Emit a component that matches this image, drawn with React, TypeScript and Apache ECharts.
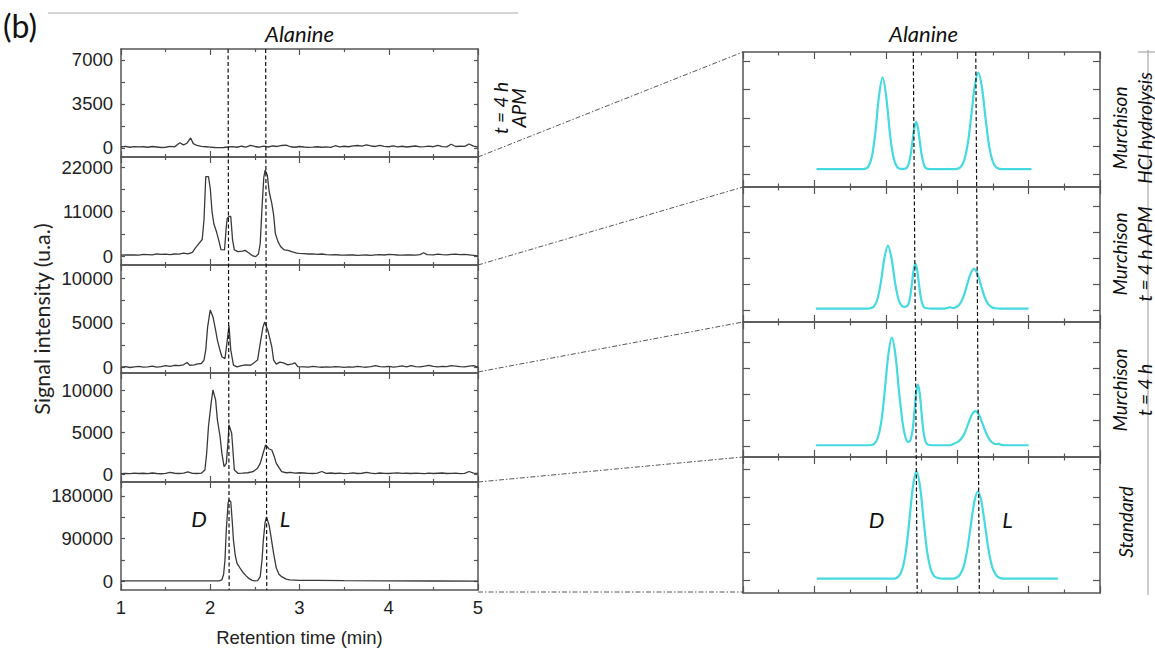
import React, { useEffect, useRef } from "react";
import * as echarts from "echarts";

// ---------------- DATA ----------------
// Left chromatograms: [retention time (min), signal intensity (u.a.)]
const leftApm4h = [
  [1.0, 80], [1.05, 130], [1.1, 60], [1.15, 110], [1.2, 90], [1.25, 100], [1.3, 60], [1.35, 120], [1.4, 80], [1.45, 40],
  [1.5, 60], [1.55, 130], [1.6, 90], [1.63, 260], [1.66, 420], [1.7, 250], [1.74, 380], [1.78, 800], [1.81, 350], [1.85, 200],
  [1.9, 130], [1.95, 100], [2.0, 70], [2.05, 40], [2.1, 30], [2.15, 40], [2.2, 80], [2.25, 110], [2.3, 60], [2.35, 140],
  [2.4, 70], [2.45, 200], [2.5, 120], [2.55, 60], [2.6, 150], [2.65, 80], [2.7, 160], [2.75, 120], [2.8, 200], [2.85, 230],
  [2.9, 100], [2.95, 60], [3.0, 120], [3.05, 80], [3.1, 50], [3.15, 70], [3.2, 100], [3.25, 60], [3.3, 90], [3.35, 50],
  [3.4, 180], [3.45, 90], [3.5, 140], [3.55, 100], [3.6, 170], [3.65, 200], [3.7, 150], [3.75, 240], [3.8, 160], [3.85, 120],
  [3.9, 200], [3.95, 130], [4.0, 100], [4.05, 170], [4.1, 90], [4.15, 140], [4.2, 80], [4.25, 120], [4.3, 160], [4.35, 90],
  [4.4, 110], [4.45, 150], [4.5, 100], [4.55, 200], [4.6, 110], [4.65, 90], [4.7, 300], [4.75, 120], [4.8, 140], [4.85, 130],
  [4.9, 320], [4.95, 150], [5.0, 60],
];
const leftHcl = [
  [1.0, 200], [1.05, 250], [1.1, 300], [1.15, 250], [1.2, 200], [1.25, 400], [1.3, 350], [1.35, 300], [1.4, 500], [1.45, 400],
  [1.5, 450], [1.55, 350], [1.6, 500], [1.65, 450], [1.7, 700], [1.75, 550], [1.8, 900], [1.83, 1900], [1.87, 3000], [1.91, 4100],
  [1.93, 9000], [1.95, 19700], [1.98, 19700], [2.0, 16800], [2.02, 11000], [2.04, 8000], [2.07, 6000], [2.1, 3500], [2.12, 1600],
  [2.16, 1500], [2.18, 7300], [2.19, 9300], [2.21, 9800], [2.23, 9800], [2.25, 4000], [2.27, 1500], [2.31, 1100], [2.36, 1200],
  [2.39, 1400], [2.43, 800], [2.47, 100], [2.51, -150], [2.54, 500], [2.56, 3100], [2.58, 12000], [2.6, 19500], [2.615, 21300],
  [2.64, 20000], [2.66, 16000], [2.69, 13000], [2.71, 10200], [2.73, 5500], [2.76, 3500], [2.79, 2300], [2.83, 1500], [2.87, 1400],
  [2.92, 1000], [2.97, 700], [3.0, 650], [3.05, 600], [3.1, 500], [3.15, 550], [3.2, 400], [3.25, 500], [3.3, 350], [3.35, 300],
  [3.4, 350], [3.45, 250], [3.5, 200], [3.55, 300], [3.6, 250], [3.65, 150], [3.7, 200], [3.75, 250], [3.8, 150], [3.85, 300],
  [3.9, 350], [3.95, 250], [4.0, 400], [4.05, 350], [4.1, 250], [4.15, 200], [4.2, 300], [4.25, 250], [4.3, 200], [4.35, 350],
  [4.39, 800], [4.43, 350], [4.5, 300], [4.55, 450], [4.6, 350], [4.65, 300], [4.7, 400], [4.75, 450], [4.8, 350], [4.85, 400],
  [4.9, 300], [4.95, 150], [5.0, 0],
];
const leftMurApm = [
  [1.0, 50], [1.05, 100], [1.1, 0], [1.15, 80], [1.2, 120], [1.25, 50], [1.3, 60], [1.35, 150], [1.4, 30], [1.45, 100],
  [1.5, 200], [1.55, 120], [1.6, 250], [1.65, 200], [1.7, 300], [1.74, 560], [1.77, 250], [1.82, 300], [1.86, 400], [1.9, 450],
  [1.93, 830], [1.95, 2000], [1.97, 4500], [2.0, 6450], [2.03, 5700], [2.06, 4200], [2.08, 3075], [2.11, 1900], [2.13, 1200],
  [2.165, 1000], [2.19, 3000], [2.21, 4700], [2.23, 1950], [2.26, 260], [2.3, 75], [2.35, 200], [2.4, 300], [2.45, 250],
  [2.48, 450], [2.53, 830], [2.56, 2700], [2.59, 4500], [2.61, 5100], [2.65, 4000], [2.69, 2300], [2.71, 830], [2.74, 375],
  [2.78, 600], [2.82, 525], [2.87, 300], [2.92, 400], [2.95, 525], [2.98, 100], [3.05, 80], [3.1, 50], [3.15, 120], [3.2, 60],
  [3.25, 30], [3.3, 80], [3.35, 50], [3.4, 100], [3.45, 60], [3.5, 20], [3.55, 80], [3.6, 40], [3.65, 120], [3.7, 60],
  [3.75, 30], [3.8, 100], [3.85, 200], [3.9, 90], [3.95, 60], [4.0, 120], [4.05, 40], [4.1, 100], [4.15, 180], [4.2, 60],
  [4.25, 200], [4.3, 100], [4.35, 60], [4.4, 150], [4.45, 250], [4.5, 120], [4.55, 80], [4.6, 130], [4.65, 90], [4.7, 200],
  [4.75, 160], [4.8, 100], [4.85, 60], [4.9, 150], [4.95, 200], [5.0, 40],
];
const leftMur4h = [
  [1.0, 50], [1.05, 80], [1.1, 40], [1.15, 100], [1.2, 60], [1.25, 90], [1.3, 50], [1.35, 120], [1.4, 60], [1.45, 30],
  [1.5, 80], [1.55, 200], [1.6, 90], [1.65, 60], [1.7, 100], [1.75, 250], [1.8, 80], [1.85, 60], [1.9, 100], [1.94, 480],
  [1.96, 2500], [1.98, 5700], [2.01, 8500], [2.03, 10080], [2.06, 8900], [2.08, 6500], [2.11, 4500], [2.13, 2500], [2.155, 880],
  [2.18, 1280], [2.2, 4000], [2.21, 5900], [2.24, 4900], [2.27, 480], [2.31, 80], [2.36, 100], [2.42, 150], [2.48, 280],
  [2.53, 700], [2.56, 1280], [2.59, 2400], [2.62, 3480], [2.66, 3000], [2.69, 2880], [2.72, 2000], [2.74, 1280], [2.8, 280],
  [2.85, 150], [2.9, 200], [2.95, 100], [3.0, 150], [3.05, 120], [3.1, 80], [3.15, 60], [3.2, 100], [3.25, 300], [3.3, 80],
  [3.35, 120], [3.4, 60], [3.45, 100], [3.5, 40], [3.55, 80], [3.6, 130], [3.65, 60], [3.7, 90], [3.75, 200], [3.8, 100],
  [3.85, 50], [3.9, 120], [3.95, 80], [4.0, 60], [4.05, 100], [4.1, 140], [4.15, 70], [4.2, 90], [4.25, 60], [4.3, 110],
  [4.35, 80], [4.4, 50], [4.45, 100], [4.5, 60], [4.55, 90], [4.6, 120], [4.65, 60], [4.7, 80], [4.75, 100], [4.8, 50],
  [4.85, 80], [4.9, 300], [4.95, 100], [5.0, 80],
];
const leftStandard = [
  [1.0, 1000], [1.2, 1000], [1.4, 900], [1.6, 1000], [1.8, 900], [2.0, 900], [2.1, 1000], [2.13, 2800], [2.15, 15000],
  [2.165, 45000], [2.18, 110000], [2.2, 165000], [2.21, 171500], [2.23, 168000], [2.245, 130000], [2.26, 87000], [2.28, 55000],
  [2.3, 38000], [2.34, 26000], [2.37, 18000], [2.4, 12000], [2.43, 6300], [2.47, 2000], [2.5, 700], [2.53, 1500], [2.56, 9800],
  [2.58, 45000], [2.595, 87000], [2.615, 125000], [2.63, 136000], [2.66, 118000], [2.68, 95000], [2.71, 59000], [2.74, 28000],
  [2.77, 15000], [2.8, 9800], [2.85, 4500], [2.89, 2800], [3.0, 2100], [3.2, 1800], [3.5, 1300], [4.0, 800], [4.5, 600], [5.0, 500],
];

// Right (zoomed, smoothed) traces: [zoom-axis position, relative intensity]
const rightHcl = [
  [2.06, 0.19], [3.3, 0.19], [3.41, 0.2], [3.51, 0.28], [3.61, 0.63], [3.71, 1.52], [3.81, 2.78], [3.91, 3.43], [4.01, 2.78],
  [4.11, 1.52], [4.21, 0.63], [4.31, 0.28], [4.41, 0.2], [4.55, 0.21], [4.6, 0.26], [4.65, 0.42], [4.7, 0.73], [4.75, 1.2],
  [4.8, 1.66], [4.85, 1.86], [4.9, 1.66], [4.95, 1.2], [5.0, 0.73], [5.05, 0.42], [5.1, 0.26], [5.15, 0.21], [5.3, 0.19],
  [5.85, 0.19], [5.99, 0.2], [6.09, 0.26], [6.19, 0.48], [6.29, 1.04], [6.39, 2.03], [6.49, 3.11], [6.59, 3.6], [6.69, 3.11],
  [6.79, 2.03], [6.89, 1.04], [6.99, 0.48], [7.09, 0.26], [7.19, 0.2], [7.35, 0.19], [8.08, 0.19],
];
const rightApm = [
  [2.04, 0.07], [3.5, 0.07], [3.56, 0.08], [3.66, 0.14], [3.76, 0.4], [3.86, 1.07], [3.96, 2.01], [4.06, 2.5], [4.16, 2.01],
  [4.26, 1.07], [4.36, 0.4], [4.46, 0.16], [4.53, 0.13], [4.58, 0.15], [4.63, 0.22], [4.68, 0.5], [4.73, 1.0], [4.78, 1.55],
  [4.83, 1.8], [4.88, 1.55], [4.93, 1.0], [4.98, 0.5], [5.03, 0.22], [5.08, 0.11], [5.15, 0.08], [5.3, 0.07], [5.65, 0.07],
  [5.72, 0.09], [5.79, 0.12], [5.86, 0.09], [5.97, 0.12], [6.07, 0.24], [6.17, 0.51], [6.27, 0.95], [6.37, 1.4], [6.47, 1.6],
  [6.57, 1.4], [6.67, 0.95], [6.77, 0.51], [6.87, 0.24], [6.97, 0.12], [7.07, 0.08], [7.2, 0.07], [8.0, 0.07],
];
const right4h = [
  [2.04, 0.04], [3.5, 0.04], [3.6, 0.05], [3.67, 0.09], [3.77, 0.3], [3.87, 0.91], [3.97, 2.11], [4.07, 3.51], [4.17, 4.17],
  [4.27, 3.51], [4.37, 2.11], [4.47, 0.91], [4.55, 0.35], [4.62, 0.17], [4.67, 0.2], [4.7, 0.28], [4.75, 0.62], [4.8, 1.3],
  [4.85, 2.04], [4.9, 2.37], [4.95, 2.04], [5.0, 1.3], [5.05, 0.62], [5.1, 0.24], [5.15, 0.09], [5.25, 0.05], [5.4, 0.04],
  [5.8, 0.04], [5.91, 0.1], [6.01, 0.16], [6.11, 0.29], [6.21, 0.51], [6.31, 0.87], [6.41, 1.21], [6.51, 1.35], [6.61, 1.21],
  [6.71, 0.87], [6.81, 0.51], [6.91, 0.25], [7.01, 0.12], [7.1, 0.08], [7.16, 0.1], [7.22, 0.06], [7.35, 0.04], [8.0, 0.04],
];
const rightStandard = [
  [2.07, 0.06], [4.25, 0.06], [4.36, 0.14], [4.46, 0.39], [4.56, 1.02], [4.66, 2.14], [4.76, 3.36], [4.86, 3.91], [4.96, 3.36],
  [5.06, 2.14], [5.16, 1.02], [5.26, 0.39], [5.36, 0.14], [5.46, 0.08], [5.6, 0.06], [5.9, 0.06], [5.98, 0.09], [6.08, 0.2],
  [6.18, 0.48], [6.28, 1.08], [6.38, 1.96], [6.48, 2.82], [6.58, 3.19], [6.68, 2.82], [6.78, 1.96], [6.88, 1.08], [6.98, 0.48],
  [7.08, 0.2], [7.18, 0.09], [7.3, 0.06], [8.82, 0.06],
];

const leftData = [leftApm4h, leftHcl, leftMurApm, leftMur4h, leftStandard];
const rightData = [rightHcl, rightApm, right4h, rightStandard];

// Axis ranges and tick labels
const xTickLabels = [1, 2, 3, 4, 5];
const leftYMin = [-716, -2232, -617, -960, -18360];
const leftYMax = [7875, 24555, 11491, 12125, 209540];
const leftYLabels = [[0, 3500, 7000], [0, 11000, 22000], [0, 5000, 10000], [0, 5000, 10000], [0, 90000, 180000]];
const leftYTicks = [
  [0, 1750, 3500, 5250, 7000],
  [0, 5500, 11000, 16500, 22000],
  [0, 2500, 5000, 7500, 10000],
  [0, 2500, 5000, 7500, 10000],
  [0, 45000, 90000, 135000, 180000],
];
const rightYMin = [-0.44, -0.45, -0.41, -0.46];
const rightYMax = [4.33, 4.76, 4.77, 4.43];
const rightYTicks = [0, 1, 2, 3, 4];

// D / L retention markers (top value, bottom value) on each x scale
const leftMarkers = [[2.2, 2.212], [2.621, 2.633]];
const rightMarkers = [[4.77, 4.88], [6.52, 6.62]];

const rightLabels = ["Murchison\nHCl hydrolysis", "Murchison\nt = 4 h APM", "Murchison\nt = 4 h", "Standard"];
const xTitle = "Retention time (min)";
const yTitle = "Signal intensity (u.a.)";

// ---------------- LAYOUT ----------------
const LX = 121, LW = 357;
const LTOPS = [49, 157, 265, 373, 482];
const LH = [108, 108, 108, 109, 108];
const RX = 743, RW = 357;
const RTOPS = [52, 187, 322, 457];
const RH = [135, 135, 135, 136];
const AX = "#555";
const CYAN = "#45d9e0";
const CAL = "Lato";
const ARIAL = "Liberation Sans";
const TICKFONT = 18.5;

export default function App() {
  const ref = useRef<HTMLDivElement>(null);

  useEffect(() => {
    document.body.style.margin = "0";
    if (!ref.current) return;
    const chart = echarts.init(ref.current, undefined, { renderer: "svg" });

    const grids: any[] = [];
    const xAxes: any[] = [];
    const yAxes: any[] = [];
    const series: any[] = [];
    const line = { show: true, onZero: false, lineStyle: { color: AX, width: 1.5 } };

    for (let i = 0; i < 5; i++) {
      grids.push({ left: LX, top: LTOPS[i], width: LW, height: LH[i] });
      const xb = {
        type: "value", gridIndex: i, min: 1, max: 5, interval: 1,
        axisLine: line,
        axisTick: { show: true, inside: true, length: 6, lineStyle: { color: AX, width: 1.2 } },
        minorTick: { show: true, splitNumber: 2, length: 3, lineStyle: { color: AX, width: 1.2 } },
        splitLine: { show: false }, minorSplitLine: { show: false },
        axisLabel: { show: false },
      };
      xAxes.push({ ...xb, position: "bottom" });
      xAxes.push({ ...xb, position: "top" });
      const yb = {
        type: "value", gridIndex: i, min: leftYMin[i], max: leftYMax[i],
        axisLine: line, splitLine: { show: false }, axisLabel: { show: false },
        axisTick: { show: true, inside: true, length: 4, customValues: leftYTicks[i], lineStyle: { color: AX, width: 1.2 } },
      };
      yAxes.push({ ...yb, position: "left" });
      yAxes.push({ ...yb, position: "right" });
      series.push({
        type: "line", xAxisIndex: 2 * i, yAxisIndex: 2 * i, data: leftData[i],
        symbol: "none", showSymbol: false, silent: true,
        lineStyle: { color: "#3a3a3a", width: 1.3 },
      });
    }

    for (let j = 0; j < 4; j++) {
      const g = 5 + j;
      grids.push({ left: RX, top: RTOPS[j], width: RW, height: RH[j] });
      const xb = {
        type: "value", gridIndex: g, min: 0, max: 10, interval: 2,
        axisLine: line,
        axisTick: { show: true, inside: true, length: 7, lineStyle: { color: AX, width: 1.2 } },
        minorTick: { show: true, splitNumber: 2, length: 3.5, lineStyle: { color: AX, width: 1.2 } },
        splitLine: { show: false }, minorSplitLine: { show: false },
        axisLabel: { show: false },
      };
      xAxes.push({ ...xb, position: "bottom" });
      xAxes.push({ ...xb, position: "top" });
      const yb = {
        type: "value", gridIndex: g, min: rightYMin[j], max: rightYMax[j],
        axisLine: line, splitLine: { show: false }, axisLabel: { show: false },
        axisTick: { show: true, inside: true, length: 7, customValues: rightYTicks, lineStyle: { color: AX, width: 1.2 } },
      };
      yAxes.push({ ...yb, position: "left" });
      yAxes.push({ ...yb, position: "right" });
      series.push({
        type: "line", xAxisIndex: 10 + 2 * j, yAxisIndex: 10 + 2 * j, data: rightData[j],
        symbol: "none", showSymbol: false, silent: true, smooth: 0.3,
        lineStyle: { color: CYAN, width: 2.2 },
      });
    }

    chart.setOption({
      animation: false,
      backgroundColor: "#fff",
      grid: grids,
      xAxis: xAxes,
      yAxis: yAxes,
      series,
    });

    const px = (xi: number, v: number) => chart.convertToPixel({ xAxisIndex: xi }, v) as number;
    const py = (yi: number, v: number) => chart.convertToPixel({ yAxisIndex: yi }, v) as number;
    const pt = (xi: number, yi: number, v: number[]) =>
      chart.convertToPixel({ xAxisIndex: xi, yAxisIndex: yi } as any, v) as number[];

    const graphics: any[] = [];
    const txt = (text: string, x: number, y: number, opt: any = {}) => ({
      type: "text", silent: true, x, y, rotation: opt.rotation || 0, z: 20,
      style: {
        text, fill: opt.fill || "#111",
        fontSize: opt.fontSize || 19, fontFamily: opt.fontFamily || CAL,
        fontStyle: opt.fontStyle || "normal",
        align: opt.align || "center", textAlign: opt.align || "center",
        verticalAlign: "middle", textVerticalAlign: "middle",
        lineHeight: opt.lineHeight || 20,
      },
    });

    // tick labels drawn from the axis scales
    for (let i = 0; i < 5; i++) {
      leftYLabels[i].forEach((v) => {
        graphics.push(txt(String(v), LX - 8, py(2 * i, v), {
          fontSize: TICKFONT, fontFamily: ARIAL, align: "right", fill: "#222",
        }));
      });
    }
    const lBottom = LTOPS[4] + LH[4];
    xTickLabels.forEach((v) => {
      graphics.push(txt(String(v), px(8, v), lBottom + 17, { fontSize: TICKFONT, fontFamily: ARIAL, fill: "#222" }));
    });

    const dash = { stroke: "#111", lineWidth: 1.2, lineDash: [4, 2.5] };
    const rBottom = RTOPS[3] + RH[3];
    leftMarkers.forEach((m) => {
      graphics.push({ type: "line", silent: true, z: 10,
        shape: { x1: px(0, m[0]), y1: LTOPS[0], x2: px(0, m[1]), y2: lBottom }, style: dash });
    });
    rightMarkers.forEach((m) => {
      graphics.push({ type: "line", silent: true, z: 10,
        shape: { x1: px(10, m[0]), y1: RTOPS[0], x2: px(10, m[1]), y2: rBottom }, style: dash });
    });

    // connectors
    const conn = { stroke: "#444", lineWidth: 0.9, lineDash: [5, 2, 1.5, 2] };
    const lEdge = LX + LW;
    const leftB = [157, 265, 372, 482, 592];
    const rightB = [52, 187, 322, 457, 592];
    for (let k = 0; k < 5; k++) {
      graphics.push({ type: "line", silent: true,
        shape: { x1: lEdge, y1: leftB[k], x2: RX, y2: rightB[k] }, style: conn });
    }

    graphics.push({ type: "line", silent: true, shape: { x1: 48, y1: 13, x2: 518, y2: 13 }, style: { stroke: "#aaa", lineWidth: 1 } });
    graphics.push(txt("(b)", 3, 25, { fontSize: 32, align: "left", lineHeight: 34 }));
    graphics.push(txt("Alanine", LX + LW / 2, 33, { fontStyle: "italic", fontSize: 22 }));
    graphics.push(txt("Alanine", RX + RW / 2 + 2, 33, { fontStyle: "italic", fontSize: 22 }));
    graphics.push(txt(yTitle, 42, 319, { fontSize: 21.5, rotation: Math.PI / 2, fill: "#222" }));
    graphics.push(txt(xTitle, LX + LW / 2, 637, { fontSize: 18.5, fontFamily: ARIAL, fill: "#222" }));
    graphics.push(txt("t = 4 h\nAPM", 509, 108, { fontSize: 19, fontStyle: "italic", rotation: Math.PI / 2, lineHeight: 18 }));

    const dL = pt(8, 8, [1.874, 131500]);
    const lL = pt(8, 8, [2.838, 131500]);
    graphics.push(txt("D", dL[0], dL[1], { fontStyle: "italic", fontSize: 22 }));
    graphics.push(txt("L", lL[0], lL[1], { fontStyle: "italic", fontSize: 22 }));
    const dR = pt(16, 16, [3.74, 2.2]);
    const lR = pt(16, 16, [7.41, 2.2]);
    graphics.push(txt("D", dR[0], dR[1], { fontStyle: "italic", fontSize: 22 }));
    graphics.push(txt("L", lR[0], lR[1], { fontStyle: "italic", fontSize: 22 }));

    const labelY = [128, 254, 390, 522];
    rightLabels.forEach((t, j) => {
      const two = t.includes("\n");
      graphics.push(txt(t, two ? 1132 : 1125, labelY[j], {
        fontSize: 19, fontStyle: "italic", rotation: Math.PI / 2, lineHeight: 25,
      }));
    });
    graphics.push({ type: "line", silent: true, shape: { x1: 1148, y1: 50, x2: 1148, y2: 595 }, style: { stroke: "#999", lineWidth: 1 } });
    graphics.push({ type: "line", silent: true, shape: { x1: 1138, y1: 52, x2: 1155, y2: 52 }, style: { stroke: "#999", lineWidth: 1 } });

    chart.setOption({ graphic: graphics });

    return () => chart.dispose();
  }, []);

  return <div ref={ref} style={{ width: 1155, height: 652 }} />;
}
